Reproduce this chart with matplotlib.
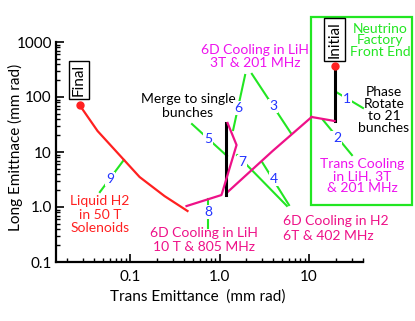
import matplotlib
matplotlib.use('Agg')
import matplotlib.pyplot as plt
from matplotlib.patches import Rectangle

plt.rcParams['font.family'] = ['Lato', 'DejaVu Sans']

# cooling path (trans, long emittance in mm rad)
phase_x = [19.3, 19.3]
phase_y = [366, 36.6]
trans_x = [19.3, 10.7]
trans_y = [36.6, 43.3]
cool6d_a_x = [10.7, 3.91, 1.20]
cool6d_a_y = [43.3, 10.4, 1.80]
merge_x = [1.19, 1.19]
merge_y = [1.65, 34.1]
cool6d_b_x = [1.23, 1.55, 1.07, 1.05, 0.428]
cool6d_b_y = [33.7, 13.4, 1.80, 1.65, 1.04]
final_x = [0.0273, 0.0434, 0.0763, 0.128, 0.243, 0.439]
final_y = [71.6, 24.1, 8.82, 3.51, 1.58, 0.846]

x_ticks = [0.1, 1.0, 10]
x_tick_labels = ['0.1', '1.0', '10']
y_ticks = [0.1, 1.0, 10, 100, 1000]
y_tick_labels = ['0.1', '1.0', '10', '100', '1000']

RED = '#ff2020'
PINK = '#ee1188'
MAGENTA = '#ee11ee'
GREEN = '#22e622'
BLUE = '#2233ff'

fig = plt.figure(figsize=(4.15, 3.21), dpi=100)
ax = fig.add_axes([56/415, 1 - 262/321, 307/415, 220/321])
ax.set_xscale('log')
ax.set_yscale('log')
ax.set_xlim(0.0149, 40.1)
ax.set_ylim(0.1, 1000)

ax.plot(phase_x, phase_y, color='black', lw=2.2, zorder=4)
ax.plot(trans_x, trans_y, color=PINK, lw=1.6, zorder=4)
ax.plot(cool6d_a_x, cool6d_a_y, color=PINK, lw=1.6, zorder=4)
ax.plot(merge_x, merge_y, color='black', lw=2.2, zorder=4)
ax.plot(cool6d_b_x, cool6d_b_y, color=PINK, lw=1.6, zorder=4)
ax.plot(final_x, final_y, color=RED, lw=1.6, zorder=4)
ax.plot([final_x[0], phase_x[0]], [final_y[0], phase_y[0]], 'o',
        color=RED, ms=5, zorder=5)

ax.set_xticks(x_ticks)
ax.set_xticklabels(x_tick_labels)
ax.set_yticks(y_ticks)
ax.set_yticklabels(y_tick_labels)
ax.tick_params(which='major', direction='in', length=6, width=1.2,
               labelsize=11)
ax.tick_params(which='minor', direction='in', length=3, width=1)
ax.tick_params(axis='x', pad=6)
ax.tick_params(axis='y', pad=3)
for s in ['top', 'right']:
    ax.spines[s].set_visible(False)
for s in ['left', 'bottom']:
    ax.spines[s].set_linewidth(1.6)

ax.set_xlabel('Trans Emittance  (mm rad)', fontsize=11)
ax.xaxis.set_label_coords(0.4625, -0.125)
ax.set_ylabel('Long Emittnace (mm rad)', fontsize=11)
ax.yaxis.set_label_coords(-0.107, 0.52)

# green front-end box
ax.add_patch(Rectangle((0.831, 0.259), 0.329, 0.855, transform=ax.transAxes,
                       fill=False, edgecolor=GREEN, lw=1.6, clip_on=False))

tkw = dict(transform=ax.transAxes, ha='center', va='center', fontsize=10,
           linespacing=1.15, clip_on=False)
ax.text(0.0749, 0.827, 'Final', rotation=90, fontsize=11, transform=ax.transAxes,
        ha='center', va='center',
        bbox=dict(boxstyle='square,pad=0.2', fc='white', ec='black', lw=1))
ax.text(0.907, 1.011, 'Initial', rotation=90, fontsize=11, transform=ax.transAxes,
        ha='center', va='center', clip_on=False,
        bbox=dict(boxstyle='square,pad=0.2', fc='white', ec='black', lw=1))
ax.text(0.430, 0.709, 'Merge to single\nbunches', color='black', **tkw)
ax.text(0.648, 0.934, '6D Cooling in LiH\n3T & 201 MHz', color=MAGENTA, **tkw)
ax.text(1.055, 1.009, 'Neutrino\nFactory\nFront End', color=GREEN,
        transform=ax.transAxes, ha='center', va='center', fontsize=10,
        linespacing=0.95, clip_on=False)
ax.text(1.068, 0.691, 'Phase\nRotate\nto 21\nbunches', color='black',
        transform=ax.transAxes, ha='center', va='center', fontsize=10,
        linespacing=1.0, clip_on=False)
ax.text(0.997, 0.389, 'Trans Cooling\nin LiH, 3T\n& 201 MHz', color=MAGENTA,
        transform=ax.transAxes, ha='center', va='center', fontsize=10,
        linespacing=1.0, clip_on=False)
ax.text(0.739, 0.152, '6D Cooling in H2\n6T & 402 MHz', color=PINK,
        transform=ax.transAxes, ha='left', va='center', fontsize=10,
        linespacing=1.25, clip_on=False)
ax.text(0.482, 0.100, '6D Cooling in LiH\n10 T & 805 MHz', color=PINK,
        transform=ax.transAxes, ha='center', va='center', fontsize=10,
        linespacing=1.25, clip_on=False)
ax.text(0.143, 0.214, 'Liquid H2\nin 50 T\nSolenoids', color=RED, **tkw)

# numbered leader lines (axes fraction): start, end, number position
leaders = [
    ('1', (0.912, 0.773), (1.000, 0.700), (0.948, 0.741)),
    ('2', (0.870, 0.645), (0.964, 0.486), (0.915, 0.564)),
    ('3', (0.638, 0.855), (0.765, 0.586), (0.707, 0.709)),
    ('4', (0.671, 0.455), (0.759, 0.259), (0.710, 0.377)),
    ('5', (0.443, 0.627), (0.557, 0.482), (0.495, 0.559)),
    ('6', (0.616, 0.850), (0.577, 0.600), (0.593, 0.700)),
    ('7', (0.590, 0.486), (0.752, 0.255), (0.606, 0.455)),
    ('8', (0.495, 0.286), (0.495, 0.155), (0.495, 0.227)),
    ('9', (0.143, 0.318), (0.221, 0.464), (0.176, 0.377)),
]
for num, p0, p1, pn in leaders:
    ax.plot([p0[0], p1[0]], [p0[1], p1[1]], color=GREEN, lw=1.5,
            transform=ax.transAxes, clip_on=False, zorder=2)
    ax.text(pn[0], pn[1], num, color=BLUE, fontsize=10, ha='center',
            va='center', transform=ax.transAxes, zorder=3,
            bbox=dict(boxstyle='square,pad=0.1', fc='white', ec='none'))

fig.savefig('out.png', dpi=100)
